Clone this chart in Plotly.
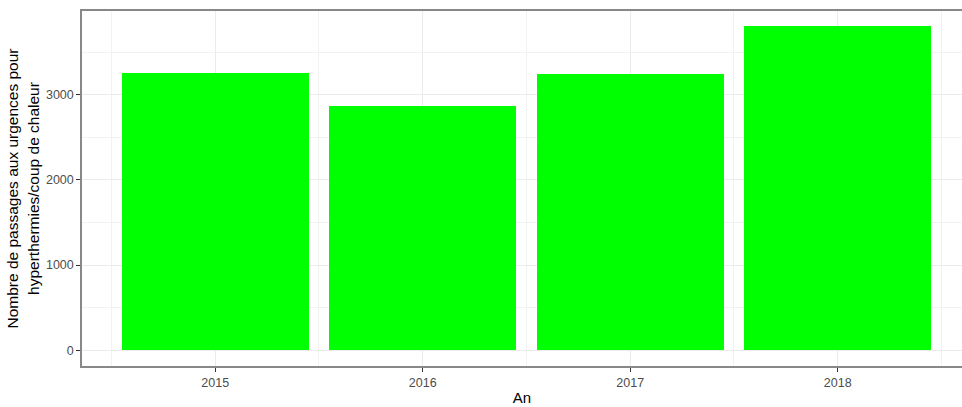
import plotly.graph_objects as go

years = [2015, 2016, 2017, 2018]
passages = [3255, 2867, 3243, 3806]
y_ticks = [0, 1000, 2000, 3000]
x_title = "An"
y_title = "Nombre de passages aux urgences pour<br>hyperthermies/coup de chaleur"

fig = go.Figure()
fig.add_trace(go.Bar(x=years, y=passages, width=0.9,
                     marker=dict(color="#00FF00", line=dict(width=0))))

font = "Liberation Sans, Arial, sans-serif"
fig.update_layout(
    width=962, height=407,
    margin=dict(l=82, r=0, t=11, b=41),
    paper_bgcolor="white", plot_bgcolor="white",
    showlegend=False,
    font=dict(family=font),
    bargap=0,
)
fig.update_xaxes(
    range=[2014.358, 2018.599],
    tickvals=years, ticktext=[str(y) for y in years],
    tickfont=dict(size=12.5, color="#4D4D4D", family=font),
    ticks="outside", ticklen=4, tickcolor="#333333", tickwidth=1,
    showgrid=True, gridcolor="#EBEBEB", gridwidth=1,
    minor=dict(showgrid=True, gridcolor="#F2F2F2", gridwidth=1, dtick=1, tick0=2014.5, ticks=""),
    showline=True, linecolor="#888888", linewidth=1.5, mirror=True,
    zeroline=False,
    title=dict(text=x_title, font=dict(size=15, color="black", family=font), standoff=4),
)
fig.update_yaxes(
    range=[-186, 3985],
    tickvals=y_ticks,
    tickfont=dict(size=12.5, color="#4D4D4D", family=font),
    ticks="outside", ticklen=4, tickcolor="#333333", tickwidth=1,
    showgrid=True, gridcolor="#EBEBEB", gridwidth=1,
    minor=dict(showgrid=True, gridcolor="#F2F2F2", gridwidth=1, dtick=500, tick0=500, ticks=""),
    showline=True, linecolor="#888888", linewidth=1.5, mirror=False,
    zeroline=False,
    title=dict(text=y_title, font=dict(size=15.5, color="black", family=font), standoff=3),
)

fig.write_html("out.html", config={"displayModeBar": False},
               post_script="document.body.style.margin='0';document.body.style.padding='0';")
